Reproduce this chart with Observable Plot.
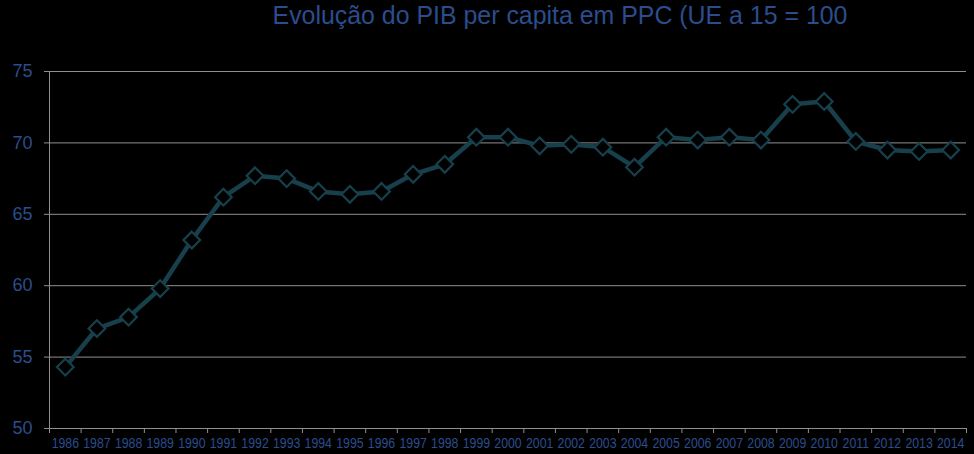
<!DOCTYPE html>
<html>
<head>
<meta charset="utf-8">
<script src="https://cdn.jsdelivr.net/npm/d3@7"></script>
<script src="https://cdn.jsdelivr.net/npm/@observablehq/plot@0.6"></script>
<style>
  html, body { margin: 0; padding: 0; background: #000; }
  #wrap { position: relative; width: 974px; height: 454px; background: #000; }
  #title { position: absolute; left: 0; width: 974px; top: 1px; text-align: center; padding-left: 146px; box-sizing: border-box;
    font-family: "Liberation Sans", Arial, sans-serif; font-size: 24.9px; color: #2b4d8d; white-space: nowrap; }
  #chart { position: absolute; left: 0; top: 0; }
</style>
</head>
<body>
<div id="wrap">
  <div id="chart"></div>
  <div id="title">Evolução do PIB per capita em PPC (UE a 15 = 100</div>
</div>
<script>
const years = [1986,1987,1988,1989,1990,1991,1992,1993,1994,1995,1996,1997,1998,1999,2000,
               2001,2002,2003,2004,2005,2006,2007,2008,2009,2010,2011,2012,2013,2014];
const values = [54.3,57.0,57.8,59.8,63.2,66.2,67.7,67.5,66.6,66.4,66.6,67.8,68.5,70.4,70.4,
                69.8,69.9,69.7,68.3,70.4,70.2,70.4,70.2,72.7,72.9,70.1,69.5,69.4,69.5];
const yTicks = [50,55,60,65,70,75];

const data = years.map((y, i) => ({year: y, value: values[i]}));
const boundaries = years.map(y => y - 0.5).concat([years[years.length - 1] + 0.5]);

const textBlue = "#2b4d8d";
const lineColor = "#17404c";
const gridColor = "#8f8f8f";

const chart = Plot.plot({
  width: 974,
  height: 454,
  marginLeft: 49,
  marginRight: 8,
  marginTop: 71,
  marginBottom: 26,
  style: {background: "#000", overflow: "visible"},
  x: {type: "linear", domain: [years[0] - 0.5, years[years.length - 1] + 0.5], label: null},
  y: {domain: [50, 75], label: null},
  marks: [
    Plot.gridY(yTicks.filter(t => t > 50), {stroke: gridColor, strokeOpacity: 1, strokeWidth: 1}),
    Plot.ruleY([50], {stroke: gridColor, strokeWidth: 1}),
    Plot.ruleX([years[0] - 0.5], {stroke: gridColor, strokeWidth: 1}),
    Plot.axisX({ticks: boundaries, tickSize: 5, stroke: gridColor, strokeOpacity: 1, tickFormat: () => "", label: null}),
    Plot.axisY({ticks: yTicks, tickSize: 5, tickPadding: 12, stroke: gridColor, strokeOpacity: 1, color: textBlue,
      fontSize: 18, fontFamily: "Liberation Sans, Arial, sans-serif", tickFormat: d => String(d), label: null}),
    Plot.axisX({ticks: years, tickSize: 0, tickPadding: 9, color: textBlue, className: "xlabels",
      fontSize: 15, fontFamily: "Liberation Sans, Arial, sans-serif", tickFormat: d => String(d), label: null}),
    Plot.line(data, {x: "year", y: "value", stroke: lineColor, strokeWidth: 4.5, strokeLinejoin: "round"}),
    Plot.dot(data, {x: "year", y: "value", symbol: "diamond2", r: 7.5, fill: "#000", stroke: lineColor, strokeWidth: 2.2})
  ]
});
// condense the year labels horizontally
chart.querySelectorAll("g.xlabels text").forEach(t => {
  const tr = t.getAttribute("transform") || "";
  t.setAttribute("transform", tr + " scale(0.82,1)");
});
document.getElementById("chart").appendChild(chart);
</script>
</body>
</html>
